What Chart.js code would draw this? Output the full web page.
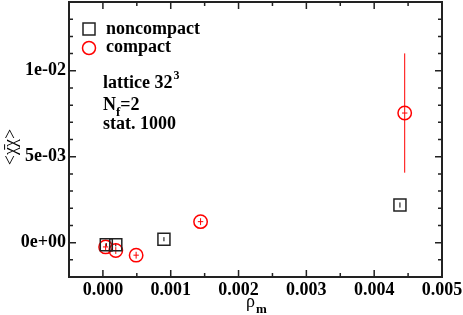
<!DOCTYPE html>
<html>
<head>
<meta charset="utf-8">
<script src="https://cdn.jsdelivr.net/npm/chart.js@4.4.0/dist/chart.umd.min.js"></script>
<style>
  html, body { margin: 0; padding: 0; background: #fff; }
  #wrap { width: 463px; height: 315px; }
</style>
</head>
<body>
<div id="wrap"><canvas id="chart" width="463" height="315"></canvas></div>
<script>
// data
const noncompactX = [0.00005, 0.00019, 0.0009, 0.00438];
const noncompactY = [-0.00013, -0.00012, 0.0002, 0.00219];
const noncompactErr = [0.0001, 0.0001, 0.00012, 0.00015];

const compactX = [0.00004, 0.00019, 0.00049, 0.00144, 0.00445];
const compactY = [-0.00025, -0.00046, -0.00073, 0.00122, 0.00754];
const compactErr = [0.0002, 0.0002, 0.0002, 0.0002, 0.00347];
const compactXErr = [0.00004, 0.00004, 0.00004, 0.00004, 0.00004];

const seriesNames = ["noncompact", "compact"];
const xRange = [-0.0005, 0.005];
const yRange = [-0.002, 0.014];
const xStep = 0.0005, xMajor = 0.001;
const yStep = 0.001, yMajor = 0.005;

const FONT = "'Liberation Serif', 'Times New Roman', serif";

function isMajor(v, major) {
  const r = v / major;
  return Math.abs(r - Math.round(r)) < 1e-6;
}

function sci(v) {
  if (Math.abs(v) < 1e-12) return "0e+00";
  const [m, e] = v.toExponential(0).split("e");
  const sign = e[0];
  const digits = e.slice(1).padStart(2, "0");
  return m + "e" + sign + digits;
}

function toPoints(xs, ys) {
  return xs.map((x, i) => ({ x: x, y: ys[i] }));
}

// no label overhang, the layout padding below decides the plot box
function noOverhang(scale) {
  scale.paddingTop = 0;
  scale.paddingBottom = 0;
  scale.paddingLeft = 0;
  scale.paddingRight = 0;
}

const errorBars = {
  id: "errorBars",
  beforeDatasetsDraw(chart) {
    const { ctx, scales } = chart;
    const sets = [
      { xs: noncompactX, ys: noncompactY, ey: noncompactErr, ex: null, color: "#000" },
      { xs: compactX, ys: compactY, ey: compactErr, ex: compactXErr, color: "#ff0000" },
    ];
    ctx.save();
    ctx.lineWidth = 1;
    sets.forEach((s) => {
      ctx.strokeStyle = s.color;
      s.xs.forEach((x, i) => {
        const px = scales.x.getPixelForValue(x);
        const y1 = scales.y.getPixelForValue(s.ys[i] - s.ey[i]);
        const y2 = scales.y.getPixelForValue(s.ys[i] + s.ey[i]);
        ctx.beginPath();
        ctx.moveTo(px, y1);
        ctx.lineTo(px, y2);
        ctx.stroke();
        if (s.ex) {
          const py = scales.y.getPixelForValue(s.ys[i]);
          ctx.beginPath();
          ctx.moveTo(scales.x.getPixelForValue(x - s.ex[i]), py);
          ctx.lineTo(scales.x.getPixelForValue(x + s.ex[i]), py);
          ctx.stroke();
        }
      });
    });
    ctx.restore();
  },
};

const frameAndText = {
  id: "frameAndText",
  afterDraw(chart) {
    const { ctx, chartArea: a, scales } = chart;
    ctx.save();
    ctx.strokeStyle = "#222";
    ctx.lineWidth = 1.5;

    // inward ticks on all sides
    scales.x.ticks.forEach((t) => {
      const px = scales.x.getPixelForValue(t.value);
      const len = isMajor(t.value, xMajor) ? 7 : 4;
      ctx.beginPath();
      ctx.moveTo(px, a.bottom); ctx.lineTo(px, a.bottom - len);
      ctx.moveTo(px, a.top); ctx.lineTo(px, a.top + len);
      ctx.stroke();
    });
    scales.y.ticks.forEach((t) => {
      const py = scales.y.getPixelForValue(t.value);
      const len = isMajor(t.value, yMajor) ? 7 : 4;
      ctx.beginPath();
      ctx.moveTo(a.left, py); ctx.lineTo(a.left + len, py);
      ctx.moveTo(a.right, py); ctx.lineTo(a.right - len, py);
      ctx.stroke();
    });
    ctx.lineWidth = 2;
    ctx.strokeRect(a.left, a.top, a.right - a.left, a.bottom - a.top);

    // legend
    ctx.lineWidth = 1.5;
    ctx.strokeStyle = "#222";
    ctx.strokeRect(83, 23, 12, 12);
    ctx.strokeStyle = "#ff0000";
    ctx.beginPath();
    ctx.arc(89, 48, 6.5, 0, Math.PI * 2);
    ctx.stroke();
    ctx.fillStyle = "#000";
    ctx.font = "bold 18px " + FONT;
    ctx.textBaseline = "alphabetic";
    ctx.textAlign = "left";
    ctx.fillText(seriesNames[0], 106, 34);
    ctx.fillText(seriesNames[1], 106, 52);

    // annotation
    ctx.fillText("lattice 32", 103, 88);
    let w = ctx.measureText("lattice 32").width;
    ctx.font = "bold 12px " + FONT;
    ctx.fillText("3", 103 + w + 1, 79);
    ctx.font = "bold 18px " + FONT;
    ctx.fillText("N", 103, 110);
    w = ctx.measureText("N").width;
    ctx.font = "bold 13px " + FONT;
    ctx.fillText("f", 103 + w, 116);
    const wf = ctx.measureText("f").width;
    ctx.font = "bold 18px " + FONT;
    ctx.fillText("=2", 103 + w + wf, 110);
    ctx.fillText("stat. 1000", 103, 129);

    // x title
    ctx.font = "18px " + FONT;
    ctx.fillText("ρ", 246, 307);
    w = ctx.measureText("ρ").width;
    ctx.font = "bold 13px " + FONT;
    ctx.fillText("m", 246 + w + 1, 313);

    // y title
    ctx.translate(16, 147);
    ctx.rotate(-Math.PI / 2);
    ctx.font = "18px " + FONT;
    ctx.textAlign = "center";
    ctx.fillText("<χ\u0304χ>", 0, 0);
    ctx.restore();
  },
};

const ctx = document.getElementById("chart").getContext("2d");
const chart = new Chart(ctx, {
  type: "scatter",
  data: {
    datasets: [
      {
        label: seriesNames[0],
        data: toPoints(noncompactX, noncompactY),
        pointStyle: "rect",
        pointRadius: 8.5,
        pointHoverRadius: 8.5,
        borderColor: "#222",
        borderWidth: 1.5,
        backgroundColor: "rgba(0,0,0,0)",
      },
      {
        label: seriesNames[1],
        data: toPoints(compactX, compactY),
        pointStyle: "circle",
        pointRadius: 6.7,
        pointHoverRadius: 6.7,
        borderColor: "#ff0000",
        borderWidth: 1.5,
        backgroundColor: "rgba(0,0,0,0)",
      },
    ],
  },
  options: {
    responsive: false,
    animation: false,
    events: [],
    layout: { autoPadding: false, padding: { left: 0, right: 21, top: 2, bottom: 0 } },
    plugins: {
      legend: { display: false },
      tooltip: { enabled: false },
    },
    scales: {
      x: {
        type: "linear",
        min: xRange[0],
        max: xRange[1],
        grid: { display: false, drawTicks: false },
        border: { display: false },
        afterFit: (scale) => { scale.height = 38; noOverhang(scale); },
        ticks: {
          stepSize: xStep,
          autoSkip: false,
          maxRotation: 0,
          padding: 3,
          color: "#000",
          font: { family: FONT, size: 18, weight: "bold" },
          callback: (v) => (isMajor(v, xMajor) ? v.toFixed(3) : ""),
        },
      },
      y: {
        type: "linear",
        min: yRange[0],
        max: yRange[1],
        grid: { display: false, drawTicks: false },
        border: { display: false },
        afterFit: (scale) => { scale.width = 69; noOverhang(scale); },
        ticks: {
          stepSize: yStep,
          autoSkip: false,
          padding: 3,
          color: "#000",
          font: { family: FONT, size: 18, weight: "bold" },
          callback: (v) => (isMajor(v, yMajor) ? sci(v) : ""),
        },
      },
    },
  },
  plugins: [errorBars, frameAndText],
});
</script>
</body>
</html>
